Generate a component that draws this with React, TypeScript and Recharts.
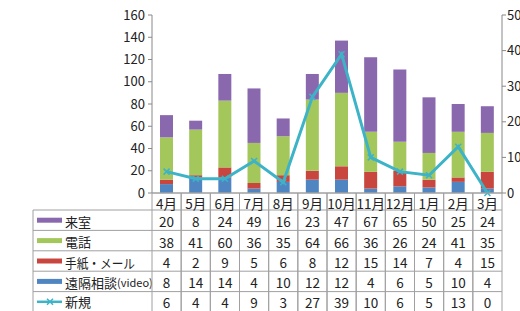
import React from 'react';
import { ComposedChart, Bar, Line, XAxis, YAxis, Customized } from 'recharts';

const months = ['4月', '5月', '6月', '7月', '8月', '9月', '10月', '11月', '12月', '1月', '2月', '3月'];
const visit = [20, 8, 24, 49, 16, 23, 47, 67, 65, 50, 25, 24];
const phone = [38, 41, 60, 36, 35, 64, 66, 36, 26, 24, 41, 35];
const mail = [4, 2, 9, 5, 6, 8, 12, 15, 14, 7, 4, 15];
const video = [8, 14, 14, 4, 10, 12, 12, 4, 6, 5, 10, 4];
const newCases = [6, 4, 4, 9, 3, 27, 39, 10, 6, 5, 13, 0];
const leftTicks = [0, 20, 40, 60, 80, 100, 120, 140, 160];
const rightTicks = [0, 10, 20, 30, 40, 50];

const C_VISIT = '#8a68ae';
const C_PHONE = '#a4c75c';
const C_MAIL = '#c8463d';
const C_VIDEO = '#4f86c2';
const C_NEW = '#3db3c8';

const rows = [
  { key: 'visit', name: '来室', sub: '', color: C_VISIT, values: visit, line: false },
  { key: 'phone', name: '電話', sub: '', color: C_PHONE, values: phone, line: false },
  { key: 'mail', name: '手紙・メール', sub: '', color: C_MAIL, values: mail, line: false },
  { key: 'video', name: '遠隔相談', sub: '(video)', color: C_VIDEO, values: video, line: false },
  { key: 'newCases', name: '新規', sub: '', color: C_NEW, values: newCases, line: true },
];

const data = months.map((m, i) => ({
  month: m,
  visit: visit[i],
  phone: phone[i],
  mail: mail[i],
  video: video[i],
  newCases: newCases[i],
}));

const FONT = '"Noto Sans CJK JP", "Noto Sans", sans-serif';
const TEXT = '#222';
const GRID = '#a0a0a0';
const HEADER_H = 17;
const ROW_H = 20.4;
const COL_HALF = 350 / 24;
const TABLE_LEFT = 33;
const PLOT_LEFT = 152;

const TableTick = (props: any) => {
  const { x, y, payload } = props;
  const i = payload.index;
  const half = payload.offset > 1 ? payload.offset : COL_HALF;
  const bottom = y + HEADER_H + ROW_H * rows.length + 4;
  const lines = [];
  for (let r = 0; r <= rows.length; r++) {
    const yy = y + HEADER_H + ROW_H * r;
    lines.push(<line key={'h' + r} x1={x - half} x2={x + half} y1={yy} y2={yy} stroke={GRID} strokeWidth={1} />);
  }
  return (
    <g>
      <line x1={x - half} x2={x + half} y1={y} y2={y} stroke={GRID} strokeWidth={1} />
      <line x1={x - half} x2={x - half} y1={y} y2={bottom} stroke={GRID} strokeWidth={1} />
      <line x1={x + half} x2={x + half} y1={y} y2={bottom} stroke={GRID} strokeWidth={1} />
      {lines}
      <text x={x} y={y + HEADER_H / 2 + 1} textAnchor="middle" dominantBaseline="central" fontSize={13.5} fill={TEXT} fontFamily={FONT}>
        {months[i]}
      </text>
      {rows.map((r, k) => (
        <text key={r.key} x={x} y={y + HEADER_H + ROW_H * k + ROW_H / 2 + (k === rows.length - 1 ? 0 : 1)} textAnchor="middle" dominantBaseline="central" fontSize={13.5} fill={TEXT} fontFamily={FONT}>
          {r.values[i]}
        </text>
      ))}
    </g>
  );
};

const LegendColumn = () => {
  const top = 193 + HEADER_H;
  const bottom = top + ROW_H * rows.length + 4;
  return (
    <g>
      <line x1={TABLE_LEFT} x2={TABLE_LEFT} y1={top} y2={bottom} stroke={GRID} strokeWidth={1} />
      {rows.map((r, k) => {
        const yy = top + ROW_H * k;
        const cy = yy + ROW_H / 2;
        return (
          <g key={r.key}>
            <line x1={TABLE_LEFT} x2={PLOT_LEFT} y1={yy} y2={yy} stroke={GRID} strokeWidth={1} />
            {r.line ? (
              <g>
                <line x1={37} x2={62} y1={cy} y2={cy} stroke={r.color} strokeWidth={2.5} />
                <path d={`M${47},${cy - 3}L${53},${cy + 3}M${47},${cy + 3}L${53},${cy - 3}`} stroke={r.color} strokeWidth={1.5} />
              </g>
            ) : (
              <line x1={37} x2={62} y1={cy} y2={cy} stroke={r.color} strokeWidth={5} />
            )}
            <text
              x={65}
              y={cy + (k === rows.length - 1 ? 0 : 1)}
              dominantBaseline="central"
              fontSize={13}
              fill={TEXT}
              fontFamily={FONT}
              {...(r.key === 'mail' ? { textLength: 70, lengthAdjust: 'spacingAndGlyphs' } : {})}
            >
              {r.name}
              {r.sub ? <tspan fontSize={11}>{r.sub}</tspan> : null}
            </text>
          </g>
        );
      })}
      <line x1={TABLE_LEFT} x2={PLOT_LEFT} y1={bottom - 4} y2={bottom - 4} stroke={GRID} strokeWidth={1} />
    </g>
  );
};

const XDot = (p: any) => {
  const { cx, cy, index } = p;
  if (cx == null || cy == null) return <g key={'d' + index} />;
  return (
    <path
      key={'d' + index}
      d={`M${cx - 3},${cy - 3}L${cx + 3},${cy + 3}M${cx - 3},${cy + 3}L${cx + 3},${cy - 3}`}
      stroke={C_NEW}
      strokeWidth={1.5}
    />
  );
};

export default function App() {
  return (
    <div style={{ position: 'absolute', left: 0, top: 0, width: 520, height: 311, background: '#fff', overflow: 'hidden' }}>
      <ComposedChart width={520} height={311} data={data} margin={{ top: 15, right: 0, left: 112, bottom: 0 }}>
        <XAxis
          dataKey="month"
          xAxisId="x"
          height={118}
          axisLine={{ stroke: GRID }}
          tickLine={false}
          tickSize={0}
          tickMargin={0}
          interval={0}
          tick={<TableTick />}
        />
        <YAxis
          yAxisId="left"
          width={40}
          domain={[0, 160]}
          ticks={leftTicks}
          interval={0}
          axisLine={{ stroke: '#888' }}
          tickLine={{ stroke: '#888' }}
          tickSize={4}
          tickMargin={3}
          tick={{ fontSize: 13, fill: TEXT, fontFamily: FONT }}
        />
        <YAxis
          yAxisId="right"
          orientation="right"
          width={18}
          domain={[0, 50]}
          ticks={rightTicks}
          interval={0}
          axisLine={{ stroke: '#888' }}
          tickLine={{ stroke: '#888' }}
          tickSize={4}
          tickMargin={1}
          tick={{ fontSize: 13, fill: TEXT, fontFamily: FONT, textAnchor: 'start' }}
        />
        <Bar dataKey="video" name="遠隔相談(video)" stackId="s" xAxisId="x" yAxisId="left" fill={C_VIDEO} barSize={13} isAnimationActive={false} />
        <Bar dataKey="mail" name="手紙・メール" stackId="s" xAxisId="x" yAxisId="left" fill={C_MAIL} barSize={13} isAnimationActive={false} />
        <Bar dataKey="phone" name="電話" stackId="s" xAxisId="x" yAxisId="left" fill={C_PHONE} barSize={13} isAnimationActive={false} />
        <Bar dataKey="visit" name="来室" stackId="s" xAxisId="x" yAxisId="left" fill={C_VISIT} barSize={13} isAnimationActive={false} />
        <Line
          dataKey="newCases"
          name="新規"
          xAxisId="x"
          yAxisId="right"
          type="linear"
          stroke={C_NEW}
          strokeWidth={3}
          dot={<XDot />}
          activeDot={false}
          isAnimationActive={false}
        />
        <Customized component={LegendColumn} />
      </ComposedChart>
    </div>
  );
}
